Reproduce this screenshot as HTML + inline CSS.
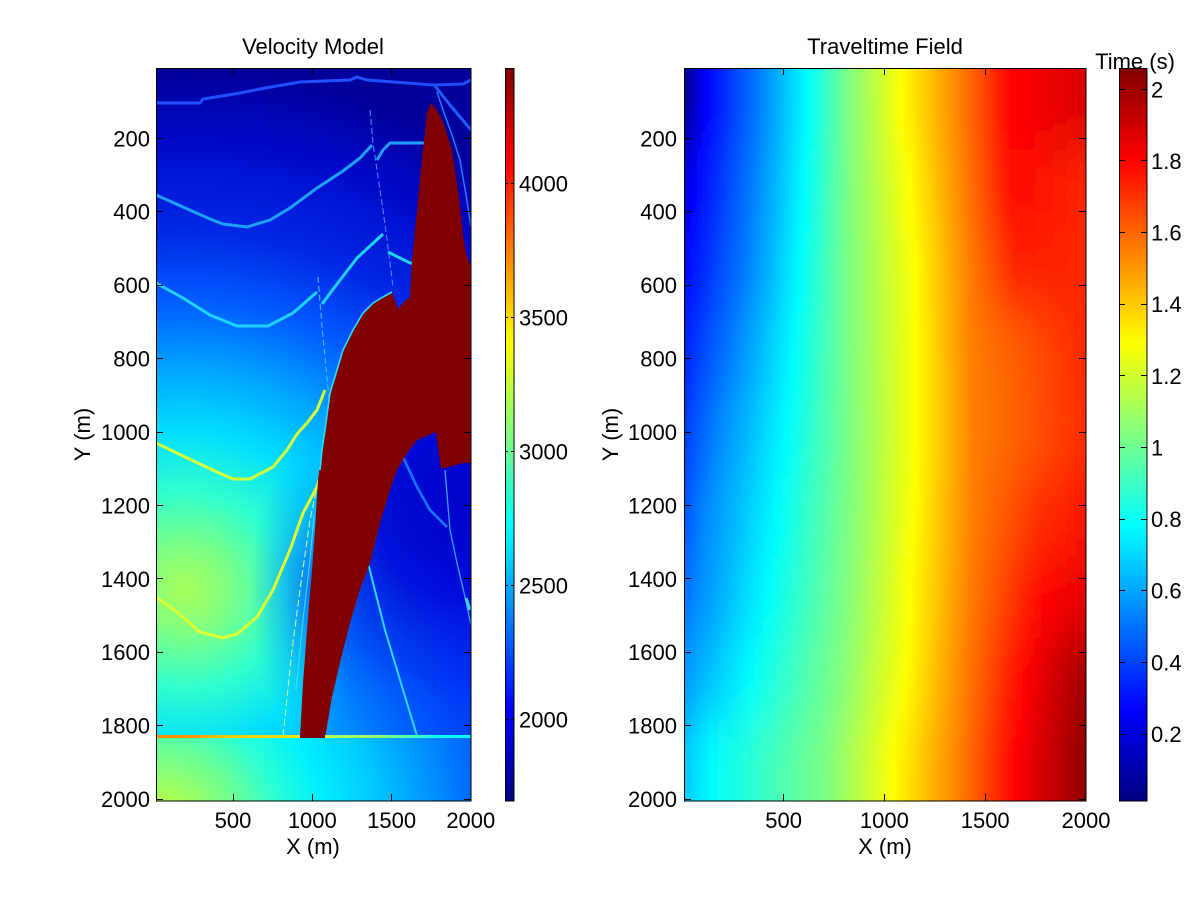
<!DOCTYPE html>
<html><head><meta charset="utf-8"><style>
html,body{margin:0;padding:0;background:#fff;}
svg{display:block;}
text{font-family:"Liberation Sans",Arial,sans-serif;font-size:22px;fill:#000;}
</style></head><body>
<svg width="1200" height="900" viewBox="0 0 1200 900" xmlns="http://www.w3.org/2000/svg">
<defs>
 <clipPath id="cL"><rect x="156" y="68" width="315" height="733"/></clipPath>
 <clipPath id="cR"><rect x="684" y="68" width="402" height="733"/></clipPath>
 <radialGradient id="gA" gradientUnits="userSpaceOnUse" cx="185" cy="590" r="520">
  <stop offset="0" stop-color="#A8FF58"/>
  <stop offset="0.08" stop-color="#80FF80"/>
  <stop offset="0.19" stop-color="#30FFCF"/>
  <stop offset="0.31" stop-color="#00DCFF"/>
  <stop offset="0.42" stop-color="#00A8FF"/>
  <stop offset="0.56" stop-color="#005AFF"/>
  <stop offset="0.69" stop-color="#0028E6"/>
  <stop offset="0.87" stop-color="#0008C8"/>
  <stop offset="1" stop-color="#00009A"/>
 </radialGradient>
 <radialGradient id="gB" gradientUnits="userSpaceOnUse" cx="160" cy="830" r="340">
  <stop offset="0" stop-color="#C8FF37"/>
  <stop offset="0.1" stop-color="#AAFF55"/>
  <stop offset="0.25" stop-color="#64FF9B"/>
  <stop offset="0.36" stop-color="#28FFD7"/>
  <stop offset="0.48" stop-color="#00F0FF"/>
  <stop offset="0.64" stop-color="#00C8FF"/>
  <stop offset="0.76" stop-color="#00A0FF"/>
  <stop offset="0.88" stop-color="#0078FF"/>
  <stop offset="1" stop-color="#0055FF"/>
 </radialGradient>
 <radialGradient id="gD" gradientUnits="userSpaceOnUse" cx="472" cy="500" r="330">
  <stop offset="0" stop-color="#0000C8" stop-opacity="1"/>
  <stop offset="0.3" stop-color="#0008D8" stop-opacity="0.95"/>
  <stop offset="0.55" stop-color="#0020F0" stop-opacity="0.7"/>
  <stop offset="0.8" stop-color="#0050FF" stop-opacity="0.35"/>
  <stop offset="1" stop-color="#0060FF" stop-opacity="0"/>
 </radialGradient>
 <radialGradient id="gW" gradientUnits="userSpaceOnUse" cx="320" cy="590" r="70" gradientTransform="translate(320,590) scale(1,2.1) translate(-320,-590)">
  <stop offset="0" stop-color="#0040FF" stop-opacity="0.85"/>
  <stop offset="0.5" stop-color="#0080FF" stop-opacity="0.5"/>
  <stop offset="1" stop-color="#00A0FF" stop-opacity="0"/>
 </radialGradient>
 <linearGradient id="gL" gradientUnits="userSpaceOnUse" x1="156" y1="0" x2="471" y2="0">
  <stop offset="0" stop-color="#FF8C00"/>
  <stop offset="0.124" stop-color="#FF9600"/>
  <stop offset="0.187" stop-color="#F0BE00"/>
  <stop offset="0.298" stop-color="#F5D200"/>
  <stop offset="0.457" stop-color="#E6E614"/>
  <stop offset="0.552" stop-color="#B4FF50"/>
  <stop offset="0.711" stop-color="#96FF6E"/>
  <stop offset="0.838" stop-color="#32FFCD"/>
  <stop offset="0.917" stop-color="#00FFFF"/>
  <stop offset="1" stop-color="#00FFFF"/>
 </linearGradient>
 <linearGradient id="jet" x1="0" y1="1" x2="0" y2="0">
  <stop offset="0" stop-color="#000080"/>
  <stop offset="0.125" stop-color="#0000FF"/>
  <stop offset="0.375" stop-color="#00FFFF"/>
  <stop offset="0.625" stop-color="#FFFF00"/>
  <stop offset="0.875" stop-color="#FF0000"/>
  <stop offset="1" stop-color="#800000"/>
 </linearGradient>
 <linearGradient id="r0" gradientUnits="userSpaceOnUse" x1="684" y1="0" x2="1086" y2="0">
  <stop offset="0" stop-color="#000090"/><stop offset="0.055" stop-color="#0000FF"/><stop offset="0.189" stop-color="#0080FF"/><stop offset="0.308" stop-color="#00FFFF"/><stop offset="0.413" stop-color="#80FF80"/><stop offset="0.540" stop-color="#FFFF00"/><stop offset="0.687" stop-color="#FF8000"/><stop offset="0.816" stop-color="#FF0000"/><stop offset="1" stop-color="#D80000"/>
 </linearGradient>
 <linearGradient id="r1" gradientUnits="userSpaceOnUse" x1="684" y1="0" x2="1086" y2="0">
  <stop offset="0" stop-color="#0000E6"/><stop offset="0.025" stop-color="#0000FF"/><stop offset="0.172" stop-color="#0080FF"/><stop offset="0.299" stop-color="#00FFFF"/><stop offset="0.413" stop-color="#80FF80"/><stop offset="0.562" stop-color="#FFFF00"/><stop offset="0.697" stop-color="#FF8000"/><stop offset="0.82" stop-color="#FF0800"/><stop offset="1" stop-color="#FF2800"/>
 </linearGradient>
 <linearGradient id="r2" gradientUnits="userSpaceOnUse" x1="684" y1="0" x2="1086" y2="0">
  <stop offset="0" stop-color="#0004FF"/><stop offset="0.157" stop-color="#0080FF"/><stop offset="0.289" stop-color="#00FFFF"/><stop offset="0.413" stop-color="#80FF80"/><stop offset="0.575" stop-color="#FFFF00"/><stop offset="0.709" stop-color="#FF8000"/><stop offset="0.83" stop-color="#FF2000"/><stop offset="1" stop-color="#FF2600"/>
 </linearGradient>
 <linearGradient id="r3" gradientUnits="userSpaceOnUse" x1="684" y1="0" x2="1086" y2="0">
  <stop offset="0" stop-color="#0021FF"/><stop offset="0.119" stop-color="#0080FF"/><stop offset="0.274" stop-color="#00FFFF"/><stop offset="0.415" stop-color="#80FF80"/><stop offset="0.577" stop-color="#FFFF00"/><stop offset="0.714" stop-color="#FF8000"/><stop offset="1" stop-color="#FF2800"/>
 </linearGradient>
 <linearGradient id="r4" gradientUnits="userSpaceOnUse" x1="684" y1="0" x2="1086" y2="0">
  <stop offset="0" stop-color="#003BFF"/><stop offset="0.075" stop-color="#0080FF"/><stop offset="0.256" stop-color="#00FFFF"/><stop offset="0.418" stop-color="#80FF80"/><stop offset="0.577" stop-color="#FFFF00"/><stop offset="0.721" stop-color="#FF8000"/><stop offset="1" stop-color="#FF2E00"/>
 </linearGradient>
 <linearGradient id="r5" gradientUnits="userSpaceOnUse" x1="684" y1="0" x2="1086" y2="0">
  <stop offset="0" stop-color="#0052FF"/><stop offset="0.040" stop-color="#0080FF"/><stop offset="0.234" stop-color="#00FFFF"/><stop offset="0.413" stop-color="#80FF80"/><stop offset="0.572" stop-color="#FFFF00"/><stop offset="0.716" stop-color="#FF8000"/><stop offset="0.886" stop-color="#FF2E00"/><stop offset="1" stop-color="#FF1400"/>
 </linearGradient>
 <linearGradient id="r6" gradientUnits="userSpaceOnUse" x1="684" y1="0" x2="1086" y2="0">
  <stop offset="0" stop-color="#0071FF"/><stop offset="0.02" stop-color="#0080FF"/><stop offset="0.209" stop-color="#00FFFF"/><stop offset="0.403" stop-color="#80FF80"/><stop offset="0.562" stop-color="#FFFF00"/><stop offset="0.709" stop-color="#FF8000"/><stop offset="0.898" stop-color="#FF0000"/><stop offset="1" stop-color="#E60000"/>
 </linearGradient>
 <linearGradient id="r7" gradientUnits="userSpaceOnUse" x1="684" y1="0" x2="1086" y2="0">
  <stop offset="0" stop-color="#0099FF"/><stop offset="0.164" stop-color="#00FFFF"/><stop offset="0.386" stop-color="#80FF80"/><stop offset="0.552" stop-color="#FFFF00"/><stop offset="0.697" stop-color="#FF8000"/><stop offset="0.848" stop-color="#FF0000"/><stop offset="1" stop-color="#9E0000"/>
 </linearGradient>
 <linearGradient id="r8" gradientUnits="userSpaceOnUse" x1="684" y1="0" x2="1086" y2="0">
  <stop offset="0" stop-color="#00C9FF"/><stop offset="0.070" stop-color="#00FFFF"/><stop offset="0.358" stop-color="#80FF80"/><stop offset="0.522" stop-color="#FFFF00"/><stop offset="0.684" stop-color="#FF8000"/><stop offset="0.826" stop-color="#FF0000"/><stop offset="1" stop-color="#8F0000"/>
 </linearGradient>
 <filter id="vb" filterUnits="userSpaceOnUse" x="660" y="-120" width="450" height="1140">
  <feGaussianBlur stdDeviation="0.3 28"/>
 </filter>
</defs>

<rect width="1200" height="900" fill="#fff"/>

<!-- ============ LEFT: VELOCITY MODEL ============ -->
<text x="313" y="54" text-anchor="middle">Velocity Model</text>
<g clip-path="url(#cL)">
 <rect x="156" y="68" width="315" height="670" fill="url(#gA)"/>
 <rect x="156" y="737" width="315" height="64" fill="url(#gB)"/>
 <path d="M436,432 L471,432 L471,738 L325,738 L332,697 L340,663 L350,623 L360,590 L370,563 L380,523 L390,490 L397,470 L407,453 L417,440 Z" fill="url(#gD)"/>
 <rect x="230" y="420" width="110" height="317" fill="url(#gW)"/>
 <g fill="none" stroke-linejoin="round">
  <polyline points="370,110 373,143 377,170 383,210 388,247 393,287" stroke="#3C8CFF" stroke-width="1.1" stroke-dasharray="6 3"/>
  <polyline points="318,277 322,327 327,377 330,410" stroke="#50B4FF" stroke-width="1.1" stroke-dasharray="6 3"/>
  <polyline points="283,736 292,650 300,590 310,520 317,487" stroke="#B4FFA0" stroke-width="1.1" stroke-dasharray="7 3"/>
  <polyline points="296,690 303,620 310,560 314,515" stroke="#40E0FF" stroke-width="1"/>
  <polyline points="403,457 417,487 430,510 447,527" stroke="#1478FF" stroke-width="2.6"/>
  <polyline points="445,470 450,530 457,563 465,597 471,625" stroke="#3CA0FF" stroke-width="1.3"/>
  <polyline points="368,563 385,630 400,680 417,736" stroke="#28DCFF" stroke-width="2"/>
  <polyline points="435,86 450,105 471,130" stroke="#1E5AFF" stroke-width="3"/>
  <polyline points="437,92 443,110 452,135 460,160 466,195 471,227" stroke="#2878FF" stroke-width="1.5"/>
  <polyline points="466,598 470,610" stroke="#40D0FF" stroke-width="3"/>
 </g>
 <g fill="none" stroke-width="3" stroke-linejoin="miter">
  <polyline points="156,103 200,103 203,99 222,96 240,93 260,89 277,86 300,82 350,80 357,77 367,80 407,83 433,85 463,84 471,80" stroke="#2050FF"/>
  <polyline points="156,195 183,207 210,219 223,224 247,227 270,220 290,208 317,188 343,171 360,158 372,145" stroke="#1EA0FF"/>
  <polyline points="377,160 383,150 390,143 425,143" stroke="#1EA0FF"/>
  <polyline points="156,283 183,298 210,315 237,326 268,326 293,313 317,292" stroke="#1ED2FF"/>
  <polyline points="322,304 337,284 357,258 383,234" stroke="#1ED2FF"/>
  <polyline points="388,252 410,263 414,263" stroke="#1ED2FF"/>
  <polyline points="156,443 183,456 217,472 233,479 250,479 273,467 287,450 297,434 307,423 317,410 325,390" stroke="#D2FF3C"/>
  <polyline points="156,597 177,612 200,632 223,638 237,634 257,617 273,590 290,550 303,513 317,487 320,477" stroke="#DCFF32"/>
 </g>
 <path d="M431,103 L437,110 L443,122 L448,137 L452,150 L455,170 L458,190 L461,215 L463,235 L466,252 L469,262 L472,268 L472,463 L463,463 L441,469 L439,455 L436,432 L417,440 L407,453 L397,470 L390,490 L380,523 L370,563 L360,590 L350,623 L340,663 L332,697 L325,738 L300,738 L303,683 L307,630 L312,570 L315,530 L318,480 L322,450 L325,430 L330,393 L337,370 L343,350 L353,330 L363,313 L373,303 L383,297 L392,292 L398,309 L403,303 L410,297 L412,260 L417,210 L422,160 L427,113 Z" fill="#800000"/>
 <polyline points="320,470 322,450 325,430 330,393 337,370 343,350 353,330 363,313 373,303 383,297 392,292" fill="none" stroke="#20E0FF" stroke-width="1.6"/>
 <rect x="156" y="735" width="315" height="3" fill="url(#gL)"/>
 <rect x="300" y="735" width="25" height="3" fill="#800000"/>
</g>
<rect x="156.5" y="68.5" width="314.5" height="732.5" fill="none" stroke="#000" stroke-width="1"/>
<path d="M156 138.5h7M156 211.5h7M156 285.5h7M156 358.5h7M156 432.5h7M156 505.5h7M156 578.5h7M156 652.5h7M156 725.5h7M156 799.5h7M471 138.5h-7M471 211.5h-7M471 285.5h-7M471 358.5h-7M471 432.5h-7M471 505.5h-7M471 578.5h-7M471 652.5h-7M471 725.5h-7M471 799.5h-7M233.5 801v-7M312.5 801v-7M391.5 801v-7M233.5 68v7M312.5 68v7M391.5 68v7" stroke="#000" stroke-width="1" fill="none"/>
<g text-anchor="end">
 <text x="150" y="146.3">200</text><text x="150" y="219.7">400</text><text x="150" y="293.1">600</text><text x="150" y="366.5">800</text><text x="150" y="440">1000</text><text x="150" y="513.4">1200</text><text x="150" y="586.8">1400</text><text x="150" y="660.2">1600</text><text x="150" y="733.6">1800</text><text x="150" y="807">2000</text>
</g>
<g text-anchor="middle">
 <text x="233" y="828">500</text><text x="312.3" y="828">1000</text><text x="391.6" y="828">1500</text><text x="470.8" y="828">2000</text>
 <text x="313" y="854">X (m)</text>
</g>
<text transform="translate(90,434.5) rotate(-90)" text-anchor="middle">Y (m)</text>

<rect x="505" y="68" width="9" height="733" fill="url(#jet)"/>
<rect x="505.5" y="68.5" width="8.5" height="732.5" fill="none" stroke="#000" stroke-width="1"/>
<path d="M505 183.5h3M514 183.5h-3M505 317.5h3M514 317.5h-3M505 451.5h3M514 451.5h-3M505 585.5h3M514 585.5h-3M505 719.5h3M514 719.5h-3" stroke="#000" stroke-width="1"/>
<g>
 <text x="519" y="191.3">4000</text><text x="519" y="325.3">3500</text><text x="519" y="459.3">3000</text><text x="519" y="593.3">2500</text><text x="519" y="727.3">2000</text>
</g>

<!-- ============ RIGHT: TRAVELTIME ============ -->
<text x="885" y="54" text-anchor="middle">Traveltime Field</text>
<g clip-path="url(#cR)">
 <g filter="url(#vb)">
  <rect x="676" y="-40" width="420" height="189.4" fill="url(#r0)"/>
  <rect x="676" y="149.4" width="420" height="81.5" fill="url(#r1)"/>
  <rect x="676" y="230.9" width="420" height="81.4" fill="url(#r2)"/>
  <rect x="676" y="312.3" width="420" height="81.5" fill="url(#r3)"/>
  <rect x="676" y="393.8" width="420" height="81.4" fill="url(#r4)"/>
  <rect x="676" y="475.2" width="420" height="81.5" fill="url(#r5)"/>
  <rect x="676" y="556.7" width="420" height="81.4" fill="url(#r6)"/>
  <rect x="676" y="638.1" width="420" height="81.5" fill="url(#r7)"/>
  <rect x="676" y="719.6" width="420" height="200" fill="url(#r8)"/>
 </g>
</g>
<rect x="684.5" y="68.5" width="401.5" height="732.5" fill="none" stroke="#000" stroke-width="1"/>
<path d="M684 138.5h7M684 211.5h7M684 285.5h7M684 358.5h7M684 432.5h7M684 505.5h7M684 578.5h7M684 652.5h7M684 725.5h7M684 799.5h7M1086 138.5h-7M1086 211.5h-7M1086 285.5h-7M1086 358.5h-7M1086 432.5h-7M1086 505.5h-7M1086 578.5h-7M1086 652.5h-7M1086 725.5h-7M1086 799.5h-7M783.5 801v-7M884.5 801v-7M985.5 801v-7M783.5 68v7M884.5 68v7M985.5 68v7" stroke="#000" stroke-width="1" fill="none"/>
<g text-anchor="end">
 <text x="677" y="146.3">200</text><text x="677" y="219.7">400</text><text x="677" y="293.1">600</text><text x="677" y="366.5">800</text><text x="677" y="440">1000</text><text x="677" y="513.4">1200</text><text x="677" y="586.8">1400</text><text x="677" y="660.2">1600</text><text x="677" y="733.6">1800</text><text x="677" y="807">2000</text>
</g>
<g text-anchor="middle">
 <text x="783.6" y="828">500</text><text x="884.4" y="828">1000</text><text x="985.2" y="828">1500</text><text x="1086" y="828">2000</text>
 <text x="885" y="854">X (m)</text>
</g>
<text transform="translate(618,434.5) rotate(-90)" text-anchor="middle">Y (m)</text>

<text x="1135" y="69" text-anchor="middle">Time (s)</text>
<rect x="1119" y="68" width="28" height="733" fill="url(#jet)"/>
<rect x="1119.5" y="68.5" width="27.5" height="732.5" fill="none" stroke="#000" stroke-width="1"/>
<path d="M1119 734.5h6M1147 734.5h-6M1119 662.5h6M1147 662.5h-6M1119 590.5h6M1147 590.5h-6M1119 519.5h6M1147 519.5h-6M1119 447.5h6M1147 447.5h-6M1119 375.5h6M1147 375.5h-6M1119 304.5h6M1147 304.5h-6M1119 232.5h6M1147 232.5h-6M1119 160.5h6M1147 160.5h-6M1119 89.5h6M1147 89.5h-6" stroke="#000" stroke-width="1"/>
<g>
 <text x="1151" y="742">0.2</text><text x="1151" y="670.4">0.4</text><text x="1151" y="598.7">0.6</text><text x="1151" y="527.1">0.8</text><text x="1151" y="455.5">1</text><text x="1151" y="383.8">1.2</text><text x="1151" y="312.2">1.4</text><text x="1151" y="240.6">1.6</text><text x="1151" y="168.9">1.8</text><text x="1151" y="97.3">2</text>
</g>
</svg>
</body></html>
